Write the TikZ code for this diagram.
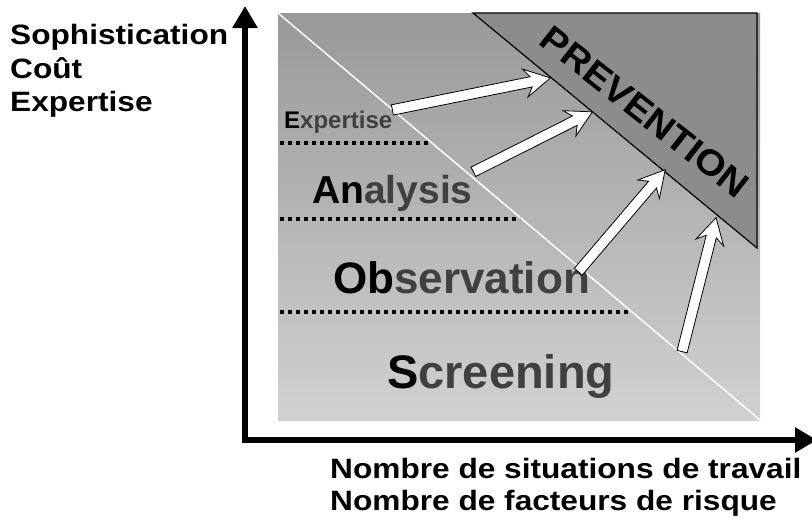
\documentclass[tikz,border=0pt]{standalone}
\usepackage{fontspec}
\setmainfont{Liberation Sans}
\newfontfamily\widefont[FakeStretch=1.13]{Liberation Sans}
\usetikzlibrary{positioning,calc,shapes.arrows,arrows.meta}

\definecolor{bandtop}{gray}{0.6}
\definecolor{bandbottom}{gray}{0.82}
\definecolor{prevgray}{gray}{0.55}
\definecolor{softtext}{gray}{0.25}

% white arrow from one named point to another
\newcommand{\fatarrow}[2]{%
  \path let \p1=($(#2)-(#1)$) in
    node[fat, minimum height={veclen(\x1,\y1)}, rotate={atan2(\y1,\x1)}, anchor=tail] at (#1) {};}

\begin{document}
\begin{tikzpicture}
                    [x=1pt,y=-1pt,
                     axis/.style={line width=6pt,{Triangle[length=22pt,width=24pt]}-{Triangle[length=22pt,width=24pt]}},
                     level/.style={dash pattern=on 4pt off 4pt, line width=4pt},
                     fat/.style={single arrow, draw, fill=white, line width=0.8pt, inner xsep=0pt, inner ysep=4.8pt,
                                 single arrow head extend=9pt, single arrow tip angle=58, single arrow head indent=6pt},
                     tier/.style={anchor=base west, inner sep=0pt, text=softtext},
                     axislabel/.style={anchor=base west, inner sep=0pt, font=\widefont\bfseries\fontsize{28}{32}\selectfont}]

                \useasboundingbox (0,0) rectangle (812,520);

                \coordinate (nw) at (278,13);
                \coordinate (se) at (760,420);
                \shade[top color=bandtop, bottom color=bandbottom] (nw) rectangle (se);
                \draw[white, line width=1.5pt] (nw) -- (se);

                \filldraw[fill=prevgray, line width=1.2pt] (473,13) -- (757,13) -- (757,248) -- cycle;
                \node[rotate=-38, font=\bfseries\fontsize{36}{36}\selectfont\addfontfeature{FakeStretch=1.08}] (prev) at (645,112) {PREVENTION};

                \draw[level] (280,143) -- (430,143);
                \draw[level] (280,219) -- (520,219);
                \draw[level] (280,312) -- (628,312);

                \node[tier, font=\bfseries\fontsize{24}{24}\selectfont] (expe) at (284,128) {\textcolor{black}{E}xpertise};
                \node[tier, font=\bfseries\fontsize{39}{39}\selectfont] (anal) at (312,203) {\textcolor{black}{An}alysis};
                \node[tier, font=\bfseries\fontsize{44}{44}\selectfont] (obse) at (333,293) {\textcolor{black}{Ob}servation};
                \node[tier, font=\bfseries\fontsize{47}{47}\selectfont] (scre) at (387,388) {\textcolor{black}{S}creening};

                \coordinate (s1) at (392,110); \coordinate (t1) at (550,78);
                \coordinate (s2) at (473,172); \coordinate (t2) at (592,112);
                \coordinate (s3) at (578,272); \coordinate (t3) at (665,170);
                \coordinate (s4) at (682,352); \coordinate (t4) at (716,218);
                \fatarrow{s1}{t1}
                \fatarrow{s2}{t2}
                \fatarrow{s3}{t3}
                \fatarrow{s4}{t4}

                \coordinate (origin) at (245,440);
                \draw[axis] (245,6) -- (origin) -- (817,440);

                \node[axislabel] (soph) at (10,44) {Sophistication};
                \node[axislabel] (cout) at (10,78) {Coût};
                \node[axislabel] (expt) at (10,111) {Expertise};

                \node[axislabel] (nsit) at (330,478) {Nombre de situations de travail};
                \node[axislabel] (nfac) at (330,510) {Nombre de facteurs de risque};

                \end{tikzpicture}
\end{document}
